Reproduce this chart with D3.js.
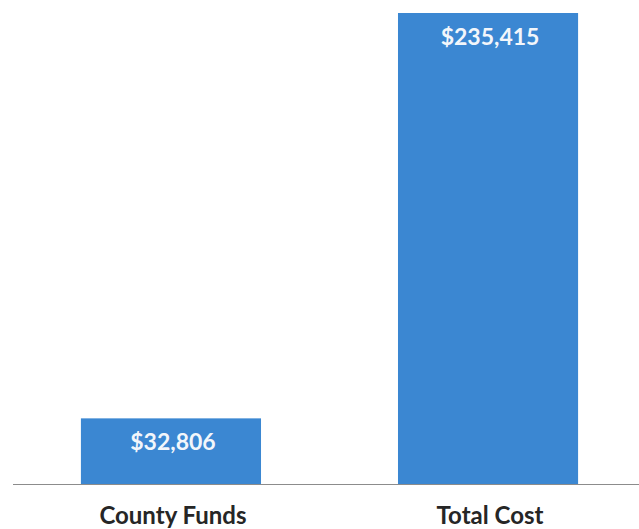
<!DOCTYPE html>
<html>
<head>
<meta charset="utf-8">
<script src="https://cdn.jsdelivr.net/npm/d3@7"></script>
<style>
  html, body { margin: 0; padding: 0; background: #fff; }
  svg { display: block; }
</style>
</head>
<body>
<svg id="chart" width="639" height="529"></svg>
<script>
const categories = ["County Funds", "Total Cost"];
const values = [32806, 235415];
const valueLabels = ["$32,806", "$235,415"];

const svg = d3.select("#chart");
const W = 639, H = 529;
const baseY = 484;

const x = d3.scaleBand()
  .domain(categories)
  .range([17.5, 641.5])
  .paddingInner(0.432)
  .paddingOuter(0.2);

const y = d3.scaleLinear()
  .domain([0, 235415])
  .range([baseY, 13]);

svg.selectAll("rect.bar")
  .data(values)
  .enter().append("rect")
  .attr("class", "bar")
  .attr("x", (d, i) => x(categories[i]))
  .attr("y", d => y(d))
  .attr("width", x.bandwidth())
  .attr("height", d => baseY - y(d))
  .attr("fill", "#3b87d2");

svg.selectAll("text.val")
  .data(values)
  .enter().append("text")
  .attr("class", "val")
  .attr("x", (d, i) => x(categories[i]) + x.bandwidth() / 2 + 2)
  .attr("y", d => y(d) + 32)
  .attr("text-anchor", "middle")
  .attr("font-family", "Lato, 'Open Sans', sans-serif")
  .attr("font-weight", "bold")
  .attr("font-size", 23)
  .attr("fill", "#f2f6fb")
  .text((d, i) => valueLabels[i]);

svg.append("line")
  .attr("x1", 13).attr("x2", W)
  .attr("y1", baseY + 0.5).attr("y2", baseY + 0.5)
  .attr("stroke", "#8c8c8c")
  .attr("stroke-width", 1);

svg.selectAll("text.cat")
  .data(categories)
  .enter().append("text")
  .attr("class", "cat")
  .attr("x", d => x(d) + x.bandwidth() / 2 + 2)
  .attr("y", 524)
  .attr("text-anchor", "middle")
  .attr("font-family", "Lato, 'Open Sans', sans-serif")
  .attr("font-weight", "bold")
  .attr("font-size", 24)
  .attr("fill", "#262626")
  .text(d => d);
</script>
</body>
</html>
